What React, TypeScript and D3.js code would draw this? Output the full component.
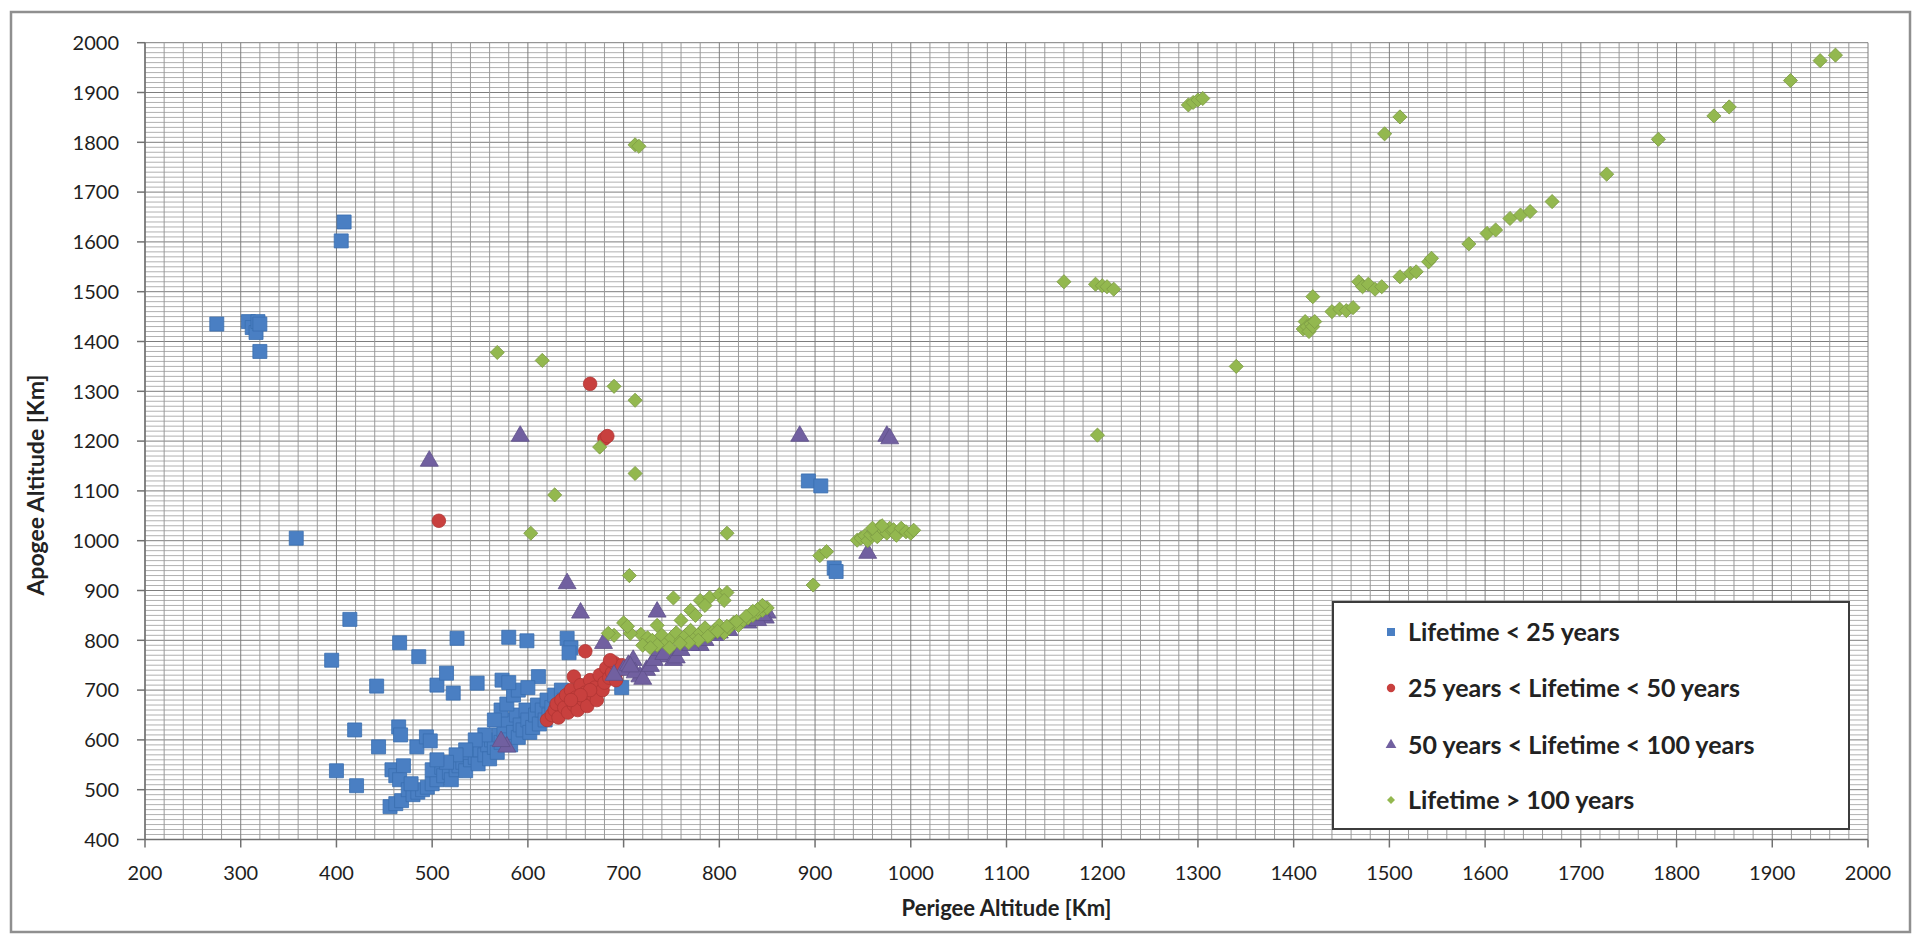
import React from 'react';
import * as d3 from 'd3';

const xTickValues = [200, 300, 400, 500, 600, 700, 800, 900, 1000, 1100, 1200, 1300, 1400, 1500, 1600, 1700, 1800, 1900, 2000];
const yTickValues = [400, 500, 600, 700, 800, 900, 1000, 1100, 1200, 1300, 1400, 1500, 1600, 1700, 1800, 1900, 2000];

const xTitle = 'Perigee Altitude [Km]';
const yTitle = 'Apogee Altitude [Km]';

const seriesNames = [
  'Lifetime < 25 years',
  '25 years < Lifetime < 50 years',
  '50 years < Lifetime < 100 years',
  'Lifetime > 100 years',
];

// Lifetime < 25 years
const blueSeries: [number, number][] = [
  [275, 1435], [308, 1440], [312, 1428], [316, 1418], [318, 1440], [320, 1435], [320, 1380],
  [405, 1602], [408, 1640], [358, 1005], [893, 1120], [906, 1110], [920, 945], [922, 938],
  [395, 760], [414, 842], [400, 538], [421, 508], [419, 620], [442, 708], [444, 586],
  [465, 626], [467, 610], [466, 795], [486, 767], [484, 586], [494, 606], [498, 598],
  [505, 710], [515, 734], [522, 694], [526, 804], [547, 714], [573, 720], [580, 806],
  [599, 799], [611, 727], [641, 804], [645, 785], [643, 775], [698, 705],
  [456, 466], [462, 472], [468, 478], [458, 540], [462, 528], [470, 548], [466, 520],
  [475, 500], [480, 490], [485, 495], [490, 500], [478, 512], [495, 505], [500, 512],
  [505, 520], [500, 540], [510, 545], [512, 528], [518, 535], [520, 520], [525, 540],
  [528, 548], [532, 555], [535, 538], [540, 560], [538, 575], [545, 565], [548, 552],
  [550, 580], [555, 570], [558, 590], [560, 562], [562, 600], [565, 585], [568, 575],
  [570, 610], [572, 595], [575, 620], [578, 640], [580, 600], [582, 590], [585, 615],
  [588, 650], [590, 605], [592, 630], [595, 620], [598, 660], [600, 640], [602, 615],
  [605, 625], [608, 650], [610, 670], [612, 632], [615, 660], [618, 640], [620, 680],
  [622, 650], [625, 665], [628, 690], [630, 660], [635, 700], [638, 680], [640, 672],
  [572, 660], [578, 672], [565, 640], [555, 610], [545, 600], [535, 580], [525, 570],
  [515, 555], [505, 560], [585, 690], [590, 700], [600, 705], [580, 715],
];

// 25 years < Lifetime < 50 years
const redSeries: [number, number][] = [
  [665, 1315], [680, 1205], [683, 1210], [507, 1040], [660, 778], [648, 727],
  [620, 640], [625, 650], [628, 660], [630, 672], [632, 645], [635, 680], [638, 665],
  [640, 690], [642, 655], [645, 700], [648, 670], [650, 685], [652, 660], [655, 710],
  [658, 680], [660, 695], [662, 668], [665, 720], [668, 690], [670, 705], [672, 680],
  [675, 730], [678, 700], [680, 715], [682, 745], [685, 725], [688, 735], [690, 755],
  [692, 720], [695, 740], [698, 750], [665, 700], [655, 690], [645, 680], [686, 760],
];

// 50 years < Lifetime < 100 years
const purpleSeries: [number, number][] = [
  [497, 1160], [592, 1210], [884, 1210], [975, 1210], [978, 1205], [641, 914], [655, 855],
  [735, 857], [955, 975], [679, 794], [710, 760], [724, 740], [745, 767], [717, 727],
  [700, 740], [578, 586], [572, 597], [780, 790], [850, 855], [848, 845], [705, 750],
  [712, 735], [720, 722], [728, 748], [732, 760], [738, 780], [742, 772], [752, 760],
  [755, 765], [760, 780], [770, 790], [785, 800], [795, 810], [800, 815], [810, 820],
  [830, 835], [840, 840], [845, 850], [690, 730], [707, 747],
];

// Lifetime > 100 years
const greenSeries: [number, number][] = [
  [568, 1378], [615, 1362], [690, 1310], [712, 1282], [675, 1188], [712, 1135], [628, 1092],
  [603, 1015], [706, 930], [712, 1795], [716, 1792], [700, 835], [690, 810], [752, 885],
  [780, 880], [790, 886], [800, 892], [808, 896], [805, 880], [785, 870], [770, 860],
  [808, 1015], [898, 911], [905, 970], [912, 978], [718, 812], [725, 805], [707, 814],
  [704, 828], [684, 814], [735, 830], [760, 840], [775, 850],
  [720, 790], [730, 800], [740, 810], [745, 795], [750, 805], [755, 815], [760, 800],
  [765, 810], [770, 820], [775, 805], [780, 815], [785, 825], [790, 810], [795, 820],
  [800, 830], [805, 815], [810, 825], [815, 835], [820, 830], [825, 840], [830, 845],
  [835, 850], [840, 855], [845, 860], [850, 865], [845, 870], [840, 862], [835, 858],
  [828, 848], [818, 838], [808, 828], [798, 818], [788, 808], [778, 800], [768, 795],
  [759, 794], [748, 785], [735, 790], [728, 785],
  [944, 1001], [948, 1005], [952, 1010], [955, 1000], [958, 1012], [962, 1018], [965, 1008],
  [968, 1028], [972, 1020], [975, 1015], [978, 1025], [982, 1022], [985, 1011], [990, 1025],
  [995, 1018], [1000, 1015], [1003, 1021], [960, 1025], [970, 1030],
  [1160, 1520], [1193, 1515], [1200, 1512], [1205, 1510], [1212, 1505], [1195, 1212],
  [1290, 1875], [1295, 1880], [1300, 1885], [1305, 1888], [1340, 1350],
  [1410, 1425], [1412, 1440], [1414, 1430], [1416, 1420], [1418, 1435], [1420, 1430],
  [1422, 1440], [1420, 1490], [1440, 1460], [1448, 1465], [1455, 1462], [1462, 1468],
  [1468, 1520], [1472, 1510], [1478, 1515], [1485, 1505], [1492, 1510], [1495, 1817],
  [1511, 1851], [1511, 1530], [1522, 1537], [1528, 1540], [1541, 1560], [1544, 1567],
  [1583, 1596], [1602, 1617], [1611, 1624], [1626, 1647], [1637, 1654], [1647, 1661],
  [1670, 1681], [1727, 1736], [1781, 1806], [1839, 1853], [1855, 1871], [1919, 1924],
  [1950, 1964], [1966, 1975],
];

const W = 1918;
const H = 938;
const plot = { left: 145, right: 1868, top: 42.7, bottom: 839.5 };
const FONT = "Lato, 'Open Sans', 'Liberation Sans', sans-serif";

const COLORS = {
  blue: '#4a7fc3',
  red: '#c8403e',
  purple: '#7160a0',
  green: '#93b84f',
};

export default function App() {
  const x = d3.scaleLinear().domain([200, 2000]).range([plot.left, plot.right]);
  const y = d3.scaleLinear().domain([400, 2000]).range([plot.bottom, plot.top]);

  const xMinor = d3.range(200, 2001, 20);
  const yMinor = d3.range(400, 2001, 10);

  const sq = d3.symbol().type(d3.symbolSquare).size(196)() as string;
  const circ = d3.symbol().type(d3.symbolCircle).size(145)() as string;
  const tri = d3.symbol().type(d3.symbolTriangle).size(140)() as string;
  const dia = d3.symbol().type(d3.symbolSquare).size(100)() as string;

  const sqL = d3.symbol().type(d3.symbolSquare).size(64)() as string;
  const circL = d3.symbol().type(d3.symbolCircle).size(55)() as string;
  const triL = d3.symbol().type(d3.symbolTriangle).size(50)() as string;
  const diaL = d3.symbol().type(d3.symbolSquare).size(32)() as string;

  const legendMarkers = [
    { d: sqL, fill: COLORS.blue, rot: 0 },
    { d: circL, fill: COLORS.red, rot: 0 },
    { d: triL, fill: COLORS.purple, rot: 0 },
    { d: diaL, fill: COLORS.green, rot: 45 },
  ];

  const legend = { x: 1333, y: 602, w: 516, h: 227 };
  const legendRowY = [632, 688, 745, 800];

  return (
    <svg width={W} height={H} style={{ position: 'absolute', left: 0, top: 0, display: 'block', background: '#fff' }}>
      <rect x={11} y={12} width={1899} height={920} fill="#fff" stroke="#8f8f8f" strokeWidth={2.5} />

      {/* gridlines */}
      <g>
        {yMinor.map((v) => (
          <line key={'ym' + v} x1={plot.left} x2={plot.right} y1={y(v)} y2={y(v)}
            stroke={v % 100 === 0 ? '#7e7e7e' : '#b0b0b0'} strokeWidth={1} />
        ))}
        {xMinor.map((v) => (
          <line key={'xm' + v} x1={x(v)} x2={x(v)} y1={plot.top} y2={plot.bottom}
            stroke={v % 100 === 0 ? '#7e7e7e' : '#999999'} strokeWidth={1} />
        ))}
      </g>

      {/* axes */}
      <line x1={plot.left} x2={plot.right} y1={plot.bottom} y2={plot.bottom} stroke="#707070" strokeWidth={1.5} />
      <line x1={plot.left} x2={plot.left} y1={plot.top} y2={plot.bottom} stroke="#707070" strokeWidth={1.5} />
      {xTickValues.map((v) => (
        <g key={'xt' + v}>
          <line x1={x(v)} x2={x(v)} y1={plot.bottom} y2={plot.bottom + 8} stroke="#707070" strokeWidth={1.5} />
          <text x={x(v)} y={plot.bottom + 40} textAnchor="middle" fontFamily={FONT} fontSize={20} fill="#1e1e1e">{v}</text>
        </g>
      ))}
      {yTickValues.map((v) => (
        <g key={'yt' + v}>
          <line x1={plot.left - 8} x2={plot.left} y1={y(v)} y2={y(v)} stroke="#707070" strokeWidth={1.5} />
          <text x={plot.left - 26} y={y(v)} dy="0.36em" textAnchor="end" fontFamily={FONT} fontSize={20} fill="#1e1e1e">{v}</text>
        </g>
      ))}

      {/* axis titles */}
      <text x={(plot.left + plot.right) / 2} y={916} textAnchor="middle" fontFamily={FONT} fontWeight="bold" fontSize={22} fill="#222">{xTitle}</text>
      <text transform={`translate(44, 485) rotate(-90)`} textAnchor="middle" fontFamily={FONT} fontWeight="bold" fontSize={23} fill="#222">{yTitle}</text>

      {/* series */}
      <g>
        {blueSeries.map(([a, b], i) => (
          <path key={'b' + i} d={sq} transform={`translate(${x(a)},${y(b)})`} fill={COLORS.blue} stroke="#3a6fb0" strokeWidth={0.8} />
        ))}
      </g>
      <g>
        {redSeries.map(([a, b], i) => (
          <path key={'r' + i} d={circ} transform={`translate(${x(a)},${y(b)})`} fill={COLORS.red} stroke="#b03533" strokeWidth={0.8} />
        ))}
      </g>
      <g>
        {purpleSeries.map(([a, b], i) => (
          <path key={'p' + i} d={tri} transform={`translate(${x(a)},${y(b)})`} fill={COLORS.purple} stroke="#5f508a" strokeWidth={0.8} />
        ))}
      </g>
      <g>
        {greenSeries.map(([a, b], i) => (
          <path key={'g' + i} d={dia} transform={`translate(${x(a)},${y(b)}) rotate(45)`} fill={COLORS.green} stroke="#7d9c45" strokeWidth={0.8} />
        ))}
      </g>

      {/* legend */}
      <rect x={legend.x} y={legend.y} width={legend.w} height={legend.h} fill="#fff" stroke="#3c3c3c" strokeWidth={2} />
      {seriesNames.map((name, i) => (
        <g key={'l' + i}>
          <path d={legendMarkers[i].d} transform={`translate(1391, ${legendRowY[i]}) rotate(${legendMarkers[i].rot})`} fill={legendMarkers[i].fill} />
          <text x={1408} y={legendRowY[i]} dy="0.36em" fontFamily={FONT} fontWeight="bold" fontSize={25} fill="#222">{name}</text>
        </g>
      ))}
    </svg>
  );
}
